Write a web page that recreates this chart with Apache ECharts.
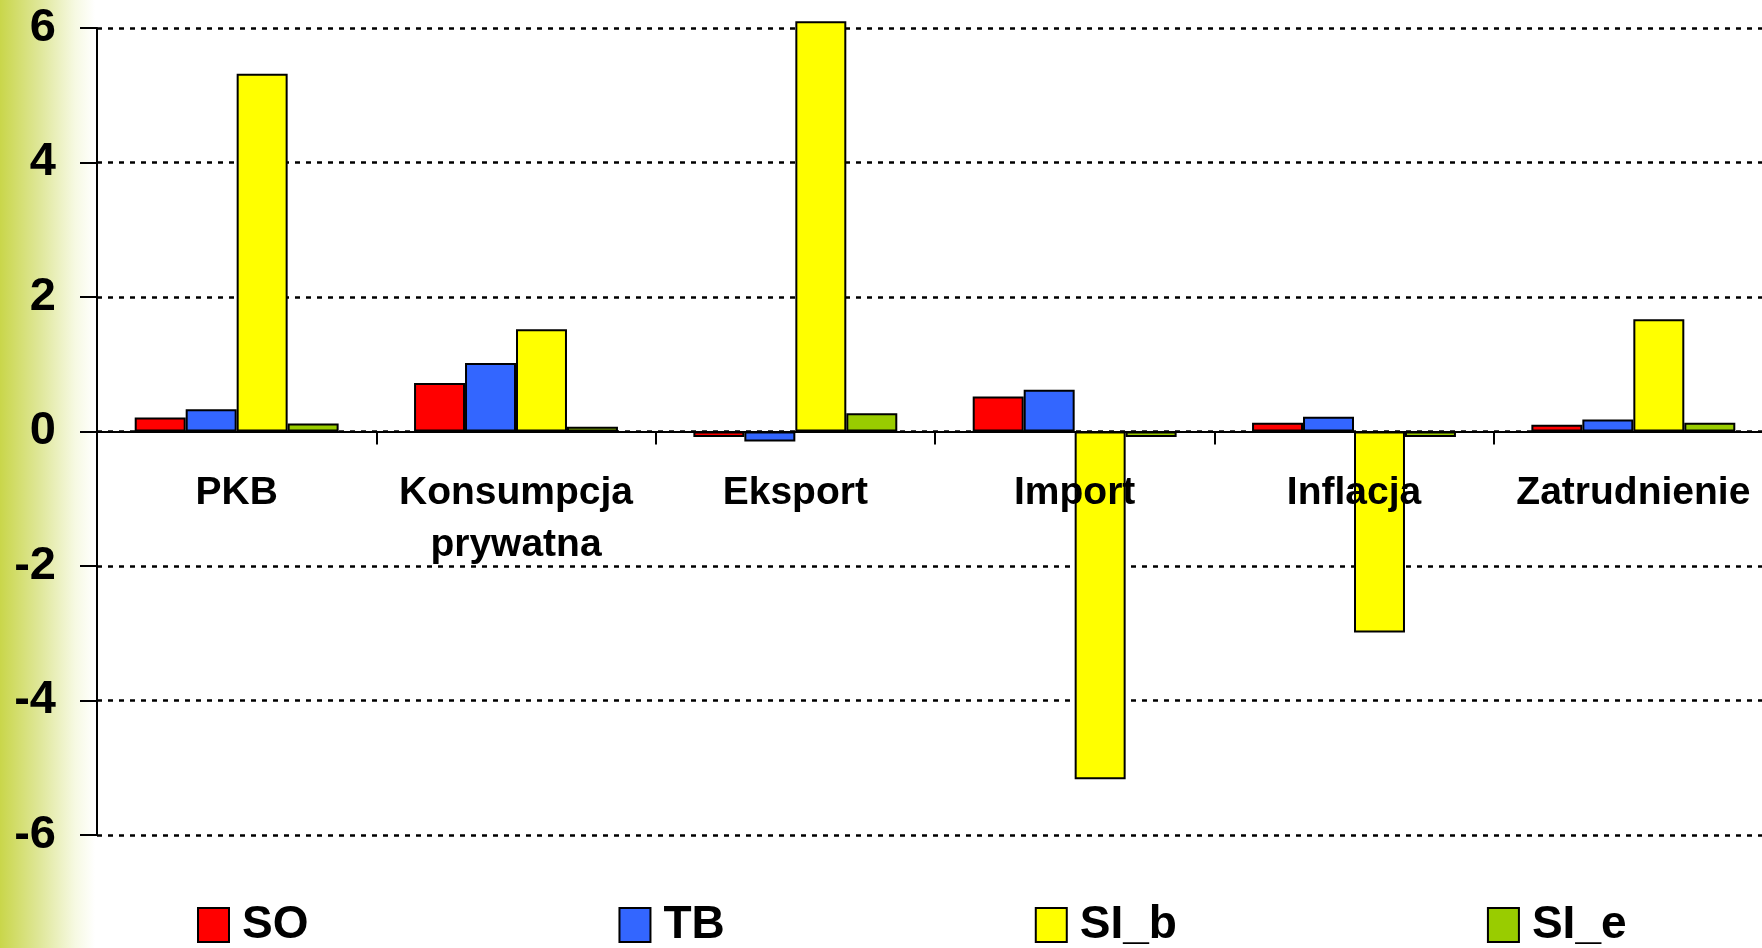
<!DOCTYPE html>
<html>
<head>
<meta charset="utf-8">
<title>SO / TB / SI_b / SI_e</title>
<script src="https://cdn.jsdelivr.net/npm/echarts@6/dist/echarts.min.js"></script>
<style>
  html, body { margin: 0; padding: 0; }
  body {
    width: 1762px; height: 948px; overflow: hidden;
    background: linear-gradient(to right, #c9d64a 0px, #dfe79a 40px, #f6f9e2 75px, #ffffff 95px);
  }
  #chart { width: 1762px; height: 948px; }
</style>
</head>
<body>
<div id="chart"></div>
<script>
const categories = ['PKB', 'Konsumpcja\nprywatna', 'Eksport', 'Import', 'Inflacja', 'Zatrudnienie'];
const seriesNames = ['SO', 'TB', 'SI_b', 'SI_e'];
const valuesSO = [0.21, 0.72, -0.08, 0.52, 0.13, 0.10];
const valuesTB = [0.33, 1.02, -0.15, 0.62, 0.22, 0.18];
const valuesSIb = [5.32, 1.52, 6.10, -5.17, -2.99, 1.67];
const valuesSIe = [0.12, 0.07, 0.27, -0.08, -0.08, 0.13];
const colors = ['#ff0000', '#3366ff', '#ffff00', '#99cc00'];

const font = 'Arial, "Liberation Sans", sans-serif';
const allValues = [valuesSO, valuesTB, valuesSIb, valuesSIe];

// plot area: value 6 at top, -6 at bottom, x axis sits on 0 (middle)
const gridTop = 28, gridHeight = 807;

const chart = echarts.init(document.getElementById('chart'));
chart.setOption({
    animation: false,
    backgroundColor: 'transparent',
    grid: { left: 97, top: gridTop, width: 1676, height: gridHeight, outerBoundsMode: 'none', containLabel: false },
    legend: {
        left: 192,
        top: 897,
        itemWidth: 31,
        itemHeight: 34,
        itemGap: 310,
        icon: 'rect',
        data: seriesNames,
        textStyle: {
            fontFamily: font, fontWeight: 'bold', fontSize: 46, color: '#000',
            lineHeight: 34, padding: [0, 0, 0, 8]
        }
    },
    xAxis: {
        type: 'category',
        data: categories,
        position: 'bottom',
        offset: -gridHeight / 2,
        z: 5,
        axisLine: { onZero: false, lineStyle: { color: '#000', width: 2 } },
        axisTick: { show: true, length: 13, lineStyle: { color: '#000', width: 2 } },
        axisLabel: {
            interval: 0, margin: 36, color: '#000',
            fontFamily: font, fontWeight: 'bold', fontSize: 39, lineHeight: 52
        },
        splitLine: { show: false }
    },
    yAxis: {
        type: 'value',
        min: -6, max: 6, interval: 2,
        axisLine: { show: true, lineStyle: { color: '#000', width: 2 } },
        axisTick: { show: true, length: 17, lineStyle: { color: '#000', width: 2 } },
        axisLabel: {
            margin: 41, color: '#000',
            fontFamily: font, fontWeight: 'bold', fontSize: 47
        },
        splitLine: { show: true, lineStyle: { color: '#000', width: 2.5, type: [5, 6] } }
    },
    series: seriesNames.map((name, i) => ({
        name: name,
        type: 'bar',
        data: allValues[i],
        clip: false,
        barGap: '0%',
        barCategoryGap: '27%',
        itemStyle: { color: colors[i], borderColor: '#000', borderWidth: 2 }
    }))
});
</script>
</body>
</html>
